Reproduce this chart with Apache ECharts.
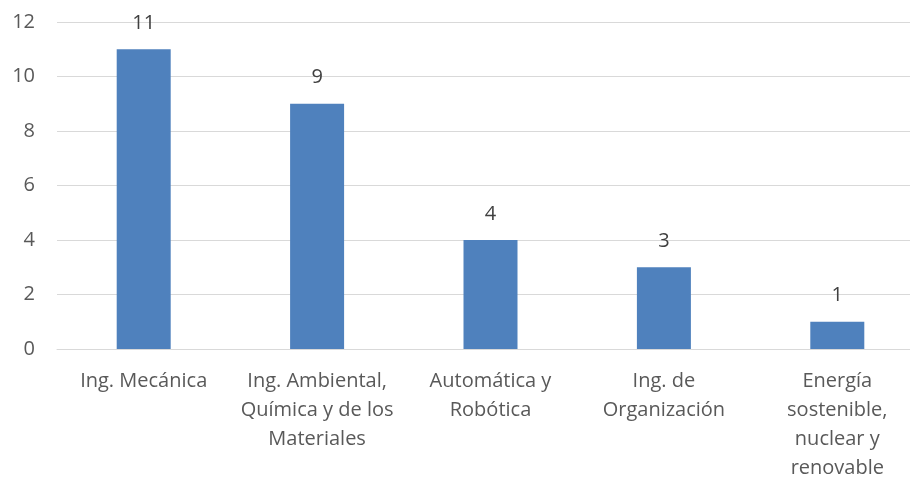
<!DOCTYPE html>
<html>
<head>
<meta charset="utf-8">
<script src="https://cdn.jsdelivr.net/npm/echarts@6/dist/echarts.min.js"></script>
<style>
  html, body { margin: 0; padding: 0; background: #fff; }
  #bar1 { width: 910px; height: 479px; }
</style>
</head>
<body>
<div id="bar1"></div>
<script>
var categories = ['Ing. Mecánica', 'Ing. Ambiental,\nQuímica y de los\nMateriales', 'Automática y\nRobótica', 'Ing. de\nOrganización', 'Energía\nsostenible,\nnuclear y\nrenovable'];
var values = [11, 9, 4, 3, 1];
var ymin = 0;
var ymax = 12;
var yinterval = 2;

var bar1 = echarts.init(document.getElementById('bar1'));
var font = '"Open Sans", "Liberation Sans", sans-serif';

var option = {
    animation: false,
    grid: {
        left: 57,
        top: 22,
        width: 867,
        height: 327,
        containLabel: false,
        outerBoundsMode: 'none'
    },
    xAxis: {
        type: 'category',
        data: categories,
        axisTick: { show: false },
        axisLine: { lineStyle: { color: '#d9d9d9', width: 1 } },
        axisLabel: {
            interval: 0,
            margin: 18,
            color: '#595959',
            fontSize: 20,
            lineHeight: 29,
            fontFamily: font
        }
    },
    yAxis: {
        type: 'value',
        min: ymin,
        max: ymax,
        interval: yinterval,
        axisLine: { show: false },
        axisTick: { show: false },
        splitLine: { lineStyle: { color: '#d9d9d9', width: 1 } },
        axisLabel: {
            margin: 22,
            color: '#595959',
            fontSize: 20,
            fontFamily: font
        }
    },
    series: [{
        type: 'bar',
        data: values,
        barWidth: 54,
        itemStyle: { color: '#4f81bd' },
        label: {
            show: true,
            position: 'top',
            distance: 16,
            color: '#404040',
            fontSize: 20,
            fontFamily: font
        }
    }]
};
bar1.setOption(option);
</script>
</body>
</html>
